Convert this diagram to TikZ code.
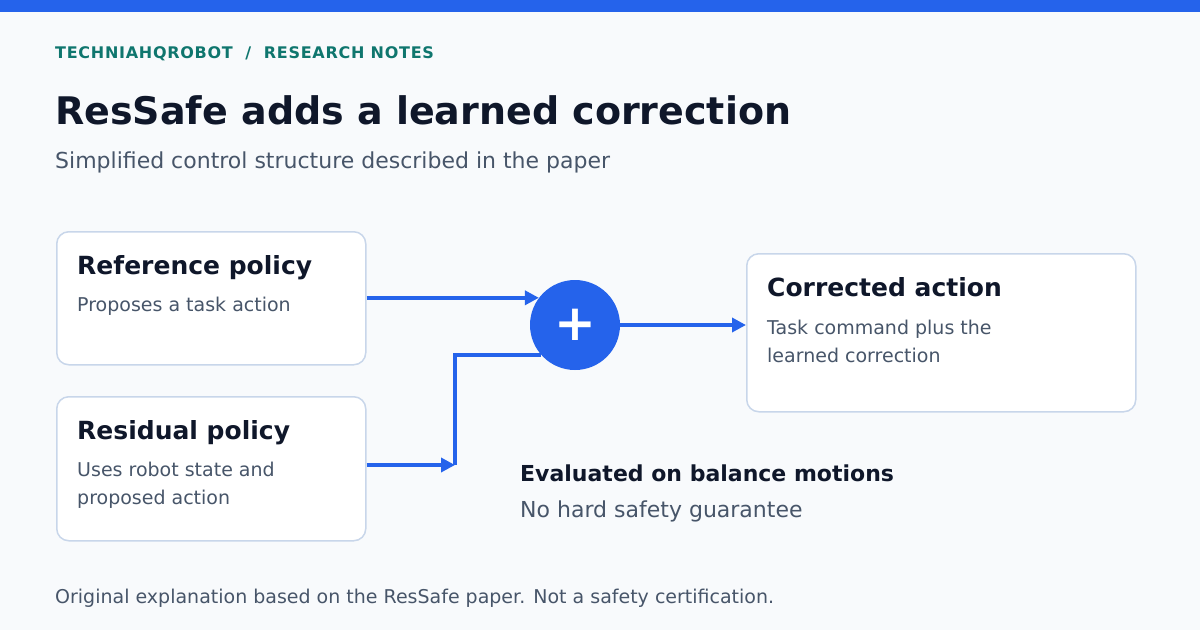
\documentclass[tikz,border=0pt]{standalone}
\usepackage{fontspec}
\setmainfont{DejaVu Sans}
\usetikzlibrary{arrows.meta,positioning}
\definecolor{page}{HTML}{F8FAFC}
\definecolor{accent}{HTML}{2563EB}
\definecolor{ink}{HTML}{0F172A}
\definecolor{muted}{HTML}{475569}
\definecolor{teal}{HTML}{0F766E}
\definecolor{boxline}{HTML}{C8D6EA}
\tikzset{
	box/.style={draw=boxline, line width=1.5pt, fill=white, rounded corners=12pt, anchor=north west, inner sep=0pt},
	flow/.style={draw=accent, line width=4pt, -{Triangle[length=14pt,width=14pt]}},
	wire/.style={draw=accent, line width=4pt},
	lbl/.style={anchor=base west, inner sep=0pt},
	head/.style={lbl, text=ink, font=\fontsize{25}{28}\selectfont\bfseries},
	desc/.style={lbl, text=muted, font=\fontsize{19}{22}\selectfont},
}
\begin{document}
\begin{tikzpicture}[x=1pt,y=-1pt]
	\fill[page] (0,0) rectangle (1200,630);
	\fill[accent] (0,0) rectangle (1200,12);
	\useasboundingbox (0,0) rectangle (1200,630);
	
	% header
	\node[lbl, text=teal, font=\fontsize{16}{18}\selectfont\bfseries\addfontfeatures{LetterSpace=4.5}] (kicker) at (55,58) {TECHNIAHQROBOT \ / \ RESEARCH NOTES};
	\node[lbl, text=ink, font=\fontsize{38}{42}\selectfont\bfseries] (title) at (55,124) {ResSafe adds a learned correction};
	\node[lbl, text=muted, font=\fontsize{22}{26}\selectfont] (sub) at (55,168) {Simplified control structure described in the paper};
	
	% boxes
	\node[box, minimum width=309pt, minimum height=133pt] (ref) at (56,231) {};
	\node[box, minimum width=309pt, minimum height=144pt] (res) at (56,396) {};
	\node[box, minimum width=389pt, minimum height=158pt] (act) at (746,253) {};
	\node[head] (reft) at (77,274) {Reference policy};
	\node[desc] (refd) at (77,311) {Proposes a task action};
	\node[head] (rest) at (77,439) {Residual policy};
	\node[desc] (resd) at (77,476) {Uses robot state and};
	\node[desc] (resd2) at (77,504) {proposed action};
	\node[head] (actt) at (767,296) {Corrected action};
	\node[desc] (actd) at (767,334) {Task command plus the};
	\node[desc] (actd2) at (767,362) {learned correction};
	
	% sum
	\node[circle, fill=accent, minimum size=90pt, inner sep=0pt, text=white, font=\fontsize{50}{50}\selectfont\bfseries] (sum) at (575,325) {+};
	\coordinate (j) at (455,465);
	
	\draw[flow] (ref.east |- sum.143) -- (sum.143);
	\draw[flow] (res.east |- j) -- (j);
	\draw[wire] (j) |- (sum.222);
	\draw[flow] (sum) -- (sum -| act.west);
	
	% note
	\node[lbl, text=ink, font=\fontsize{22}{26}\selectfont\bfseries] (eval) at (520,481) {Evaluated on balance motions};
	\node[lbl, text=muted, font=\fontsize{22}{26}\selectfont] (guar) at (520,517) {No hard safety guarantee};
	\node[lbl, text=muted, font=\fontsize{19}{22}\selectfont] (foot) at (55,603) {Original explanation based on the ResSafe paper. Not a safety certification.};
\end{tikzpicture}
\end{document}
